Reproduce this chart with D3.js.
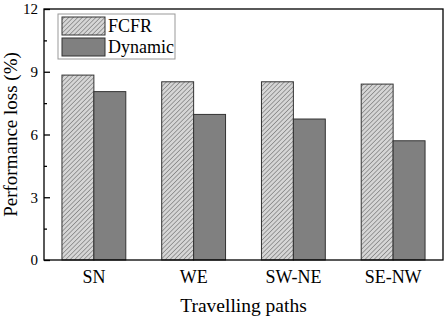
<!DOCTYPE html>
<html>
<head>
<meta charset="utf-8">
<style>
  body { margin: 0; background: #fff; }
  svg text { font-family: "Liberation Serif", "Times New Roman", serif; fill: #000; }
</style>
</head>
<body>
<div id="chart"></div>
<script src="https://cdn.jsdelivr.net/npm/d3@7"></script>
<script>
var paths = ["SN", "WE", "SW-NE", "SE-NW"];
var fcfr = [8.84, 8.52, 8.52, 8.41];
var dynamic = [8.05, 6.96, 6.74, 5.70];
var yTicks = [0, 3, 6, 9, 12];
var yMinor = [1.5, 4.5, 7.5, 10.5];
var seriesNames = ["FCFR", "Dynamic"];

var W = 447, H = 319;
var margin = {top: 9, right: 4, bottom: 59, left: 44};
var width = W - margin.left - margin.right,
    height = H - margin.top - margin.bottom;

var svg = d3.select("#chart").append("svg")
    .attr("width", W).attr("height", H);

var defs = svg.append("defs");
var pat = defs.append("pattern")
    .attr("id", "hatch")
    .attr("patternUnits", "userSpaceOnUse")
    .attr("width", 3.2).attr("height", 3.2)
    .attr("patternTransform", "rotate(45)");
pat.append("rect").attr("width", 3.2).attr("height", 3.2).attr("fill", "#d6d6d6");
pat.append("line").attr("x1", 0).attr("y1", 0).attr("x2", 0).attr("y2", 3.2)
    .attr("stroke", "#5a5a5a").attr("stroke-width", 1);

var g = svg.append("g")
    .attr("transform", "translate(" + margin.left + "," + margin.top + ")");

var x = d3.scaleBand().domain(paths).range([0, width]);
var y = d3.scaleLinear().domain([0, 12]).range([height, 0]);
var barW = x.bandwidth() * 0.32;

// bars
var groups = g.selectAll(".grp").data(paths).enter().append("g")
    .attr("class", "grp")
    .attr("transform", function(d) { return "translate(" + (x(d) + x.bandwidth() / 2) + ",0)"; });

groups.append("rect")
    .attr("x", -barW)
    .attr("y", function(d, i) { return y(fcfr[i]); })
    .attr("width", barW)
    .attr("height", function(d, i) { return y(0) - y(fcfr[i]); })
    .attr("fill", "url(#hatch)")
    .attr("stroke", "#333").attr("stroke-width", 1);

groups.append("rect")
    .attr("x", 0)
    .attr("y", function(d, i) { return y(dynamic[i]); })
    .attr("width", barW)
    .attr("height", function(d, i) { return y(0) - y(dynamic[i]); })
    .attr("fill", "#808080")
    .attr("stroke", "#333").attr("stroke-width", 1);

// frame
g.append("rect")
    .attr("x", 0).attr("y", 0)
    .attr("width", width).attr("height", height)
    .attr("fill", "none").attr("stroke", "#000").attr("stroke-width", 1.3);

// y axis
var yAxis = d3.axisLeft(y).tickValues(yTicks).tickSizeInner(-6).tickSizeOuter(0).tickPadding(6);
var ya = g.append("g").call(yAxis);
ya.select(".domain").remove();
ya.selectAll(".tick line").attr("stroke", "#000").attr("stroke-width", 1.3);
ya.selectAll(".tick text").attr("font-size", 15).attr("font-family", "Liberation Serif, serif");

var ym = g.append("g").call(d3.axisLeft(y).tickValues(yMinor).tickSize(-3).tickFormat(""));
ym.select(".domain").remove();
ym.selectAll(".tick line").attr("stroke", "#000").attr("stroke-width", 1.3);

// x axis
var xa = g.append("g").attr("transform", "translate(0," + height + ")")
    .call(d3.axisBottom(x).tickSize(0).tickPadding(10));
xa.select(".domain").remove();
xa.selectAll(".tick text").attr("font-size", 18).attr("font-family", "Liberation Serif, serif");

// axis titles
svg.append("text")
    .attr("transform", "translate(17," + (margin.top + height / 2) + ") rotate(-90)")
    .attr("text-anchor", "middle")
    .attr("font-size", 19)
    .text("Performance loss (%)");

svg.append("text")
    .attr("x", margin.left + width / 2)
    .attr("y", 312)
    .attr("text-anchor", "middle")
    .attr("font-size", 19.5)
    .text("Travelling paths");

// legend
var lg = svg.append("g").attr("transform", "translate(58,14)");
lg.append("rect").attr("width", 117).attr("height", 45)
    .attr("fill", "#fff").attr("stroke", "#999").attr("stroke-width", 1);
var fills = ["url(#hatch)", "#808080"];
seriesNames.forEach(function(s, i) {
    lg.append("rect")
        .attr("x", 4).attr("y", 3 + i * 21)
        .attr("width", 43).attr("height", 18)
        .attr("fill", fills[i]).attr("stroke", "#333").attr("stroke-width", 1);
    lg.append("text")
        .attr("x", 50).attr("y", 18 + i * 21)
        .attr("font-size", 18)
        .text(s);
});
</script>
</body>
</html>
